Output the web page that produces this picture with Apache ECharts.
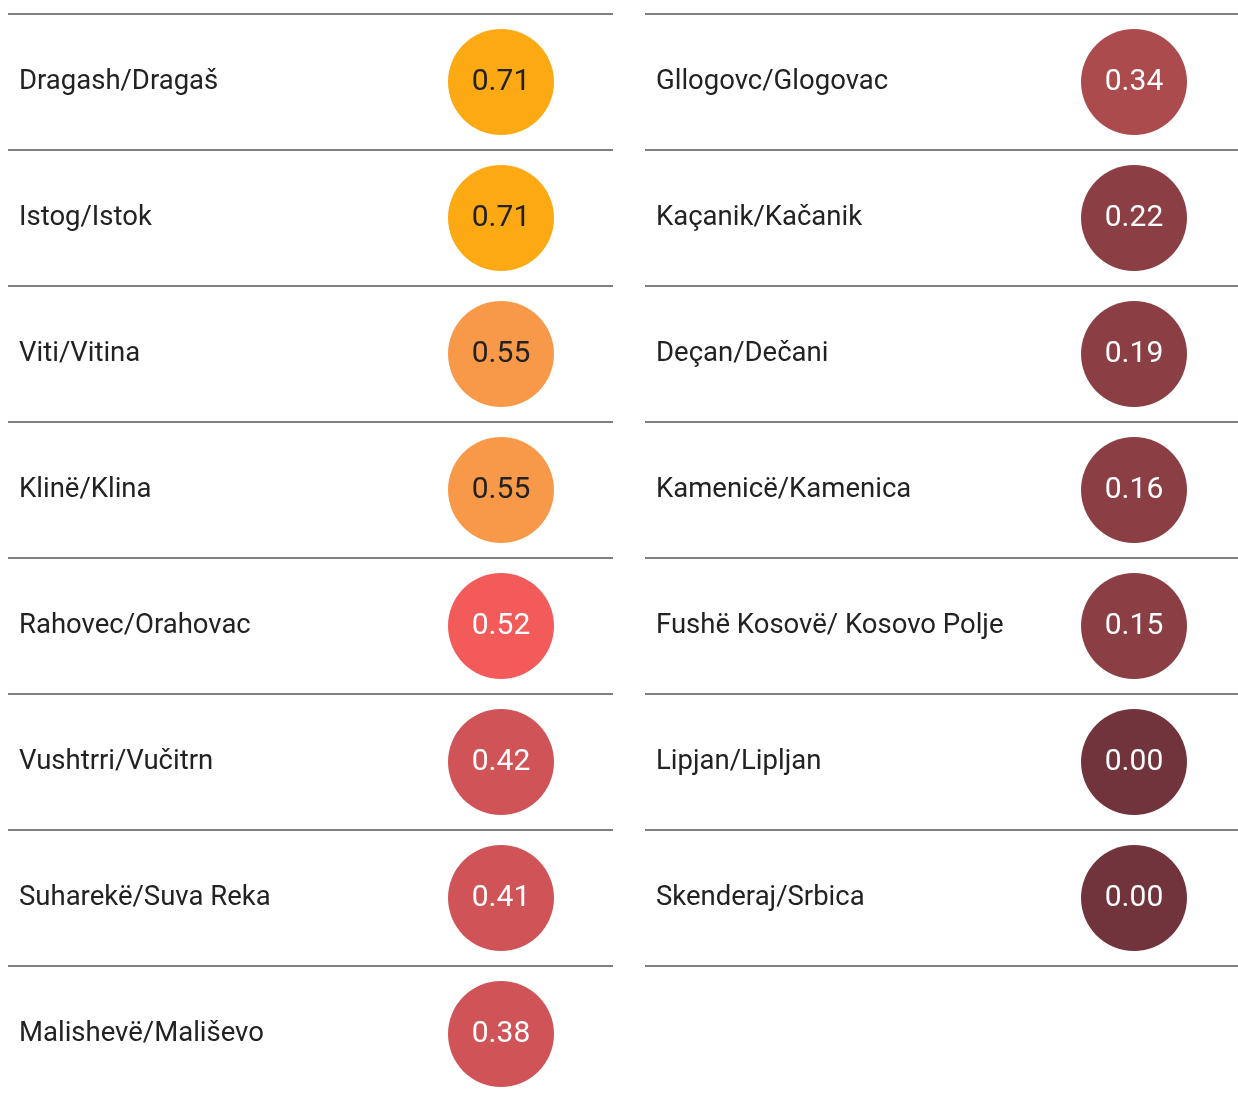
<!DOCTYPE html>
<html>
<head>
<meta charset="utf-8">
<script src="https://cdn.jsdelivr.net/npm/echarts@6/dist/echarts.min.js"></script>
<style>
  html, body { margin: 0; padding: 0; background: #fff; overflow: hidden; }
  #main { width: 1238px; height: 1110px; }
</style>
</head>
<body>
<div id="main"></div>
<script>
var leftNames = ['Dragash/Dragaš', 'Istog/Istok', 'Viti/Vitina', 'Klinë/Klina', 'Rahovec/Orahovac', 'Vushtrri/Vučitrn', 'Suharekë/Suva Reka', 'Malishevë/Mališevo'];
var leftValues = [0.71, 0.71, 0.55, 0.55, 0.52, 0.42, 0.41, 0.38];
var rightNames = ['Gllogovc/Glogovac', 'Kaçanik/Kačanik', 'Deçan/Dečani', 'Kamenicë/Kamenica', 'Fushë Kosovë/ Kosovo Polje', 'Lipjan/Lipljan', 'Skenderaj/Srbica'];
var rightValues = [0.34, 0.22, 0.19, 0.16, 0.15, 0.00, 0.00];

var ROW = 136;
var TOP = 14;
var FONT = 'Roboto, "Noto Sans", sans-serif';

function fillFor(v) {
    if (v >= 0.7) return '#fca913';
    if (v >= 0.55) return '#f8994a';
    if (v >= 0.5) return '#f35b5b';
    if (v >= 0.35) return '#d05457';
    if (v >= 0.3) return '#ab4b4e';
    if (v > 0) return '#8b3f44';
    return '#72343c';
}

function textFor(v) {
    return v >= 0.55 ? '#222' : '#fff';
}

var chartDom = document.getElementById('main');
var myChart = echarts.init(chartDom);

// column layout: wide grid for rules + names, narrow grid for the circles
var cols = [
    { names: leftNames, values: leftValues, left: 8, width: 605, circleX: 448 },
    { names: rightNames, values: rightValues, left: 645, width: 593, circleX: 1081 }
];

var grids = [], xAxes = [], yAxes = [], series = [];

cols.forEach(function (c, k) {
    var h = ROW * c.names.length;
    grids.push({ left: c.left, top: TOP, width: c.width, height: h });
    grids.push({ left: c.circleX, top: TOP, width: 106, height: h });

    xAxes.push({ gridIndex: 2 * k, type: 'value', show: false, min: 0, max: 1 });
    xAxes.push({ gridIndex: 2 * k + 1, type: 'category', show: false, data: ['score'] });

    yAxes.push({
        gridIndex: 2 * k,
        type: 'category',
        inverse: true,
        data: c.names,
        axisLine: { show: false },
        axisTick: { show: false },
        axisLabel: {
            align: 'left',
            margin: -11,
            padding: [6, 0, 0, 0],
            fontSize: 27.5,
            fontFamily: FONT,
            color: '#222'
        },
        splitLine: { show: true, lineStyle: { color: '#555', width: 1.5 } }
    });
    yAxes.push({
        gridIndex: 2 * k + 1,
        type: 'category',
        inverse: true,
        show: false,
        data: c.names
    });

    series.push({
        type: 'scatter',
        xAxisIndex: 2 * k + 1,
        yAxisIndex: 2 * k + 1,
        symbolSize: 106,
        silent: true,
        data: c.values.map(function (v, i) {
            return {
                value: ['score', c.names[i], v],
                itemStyle: { color: fillFor(v), opacity: 1 },
                label: { color: textFor(v) }
            };
        }),
        label: {
            show: true,
            position: 'inside',
            fontSize: 30,
            fontFamily: FONT,
            formatter: function (p) { return p.value[2].toFixed(2); }
        }
    });
});

var option = {
    animation: false,
    grid: grids,
    xAxis: xAxes,
    yAxis: yAxes,
    series: series
};

option && myChart.setOption(option);
</script>
</body>
</html>
